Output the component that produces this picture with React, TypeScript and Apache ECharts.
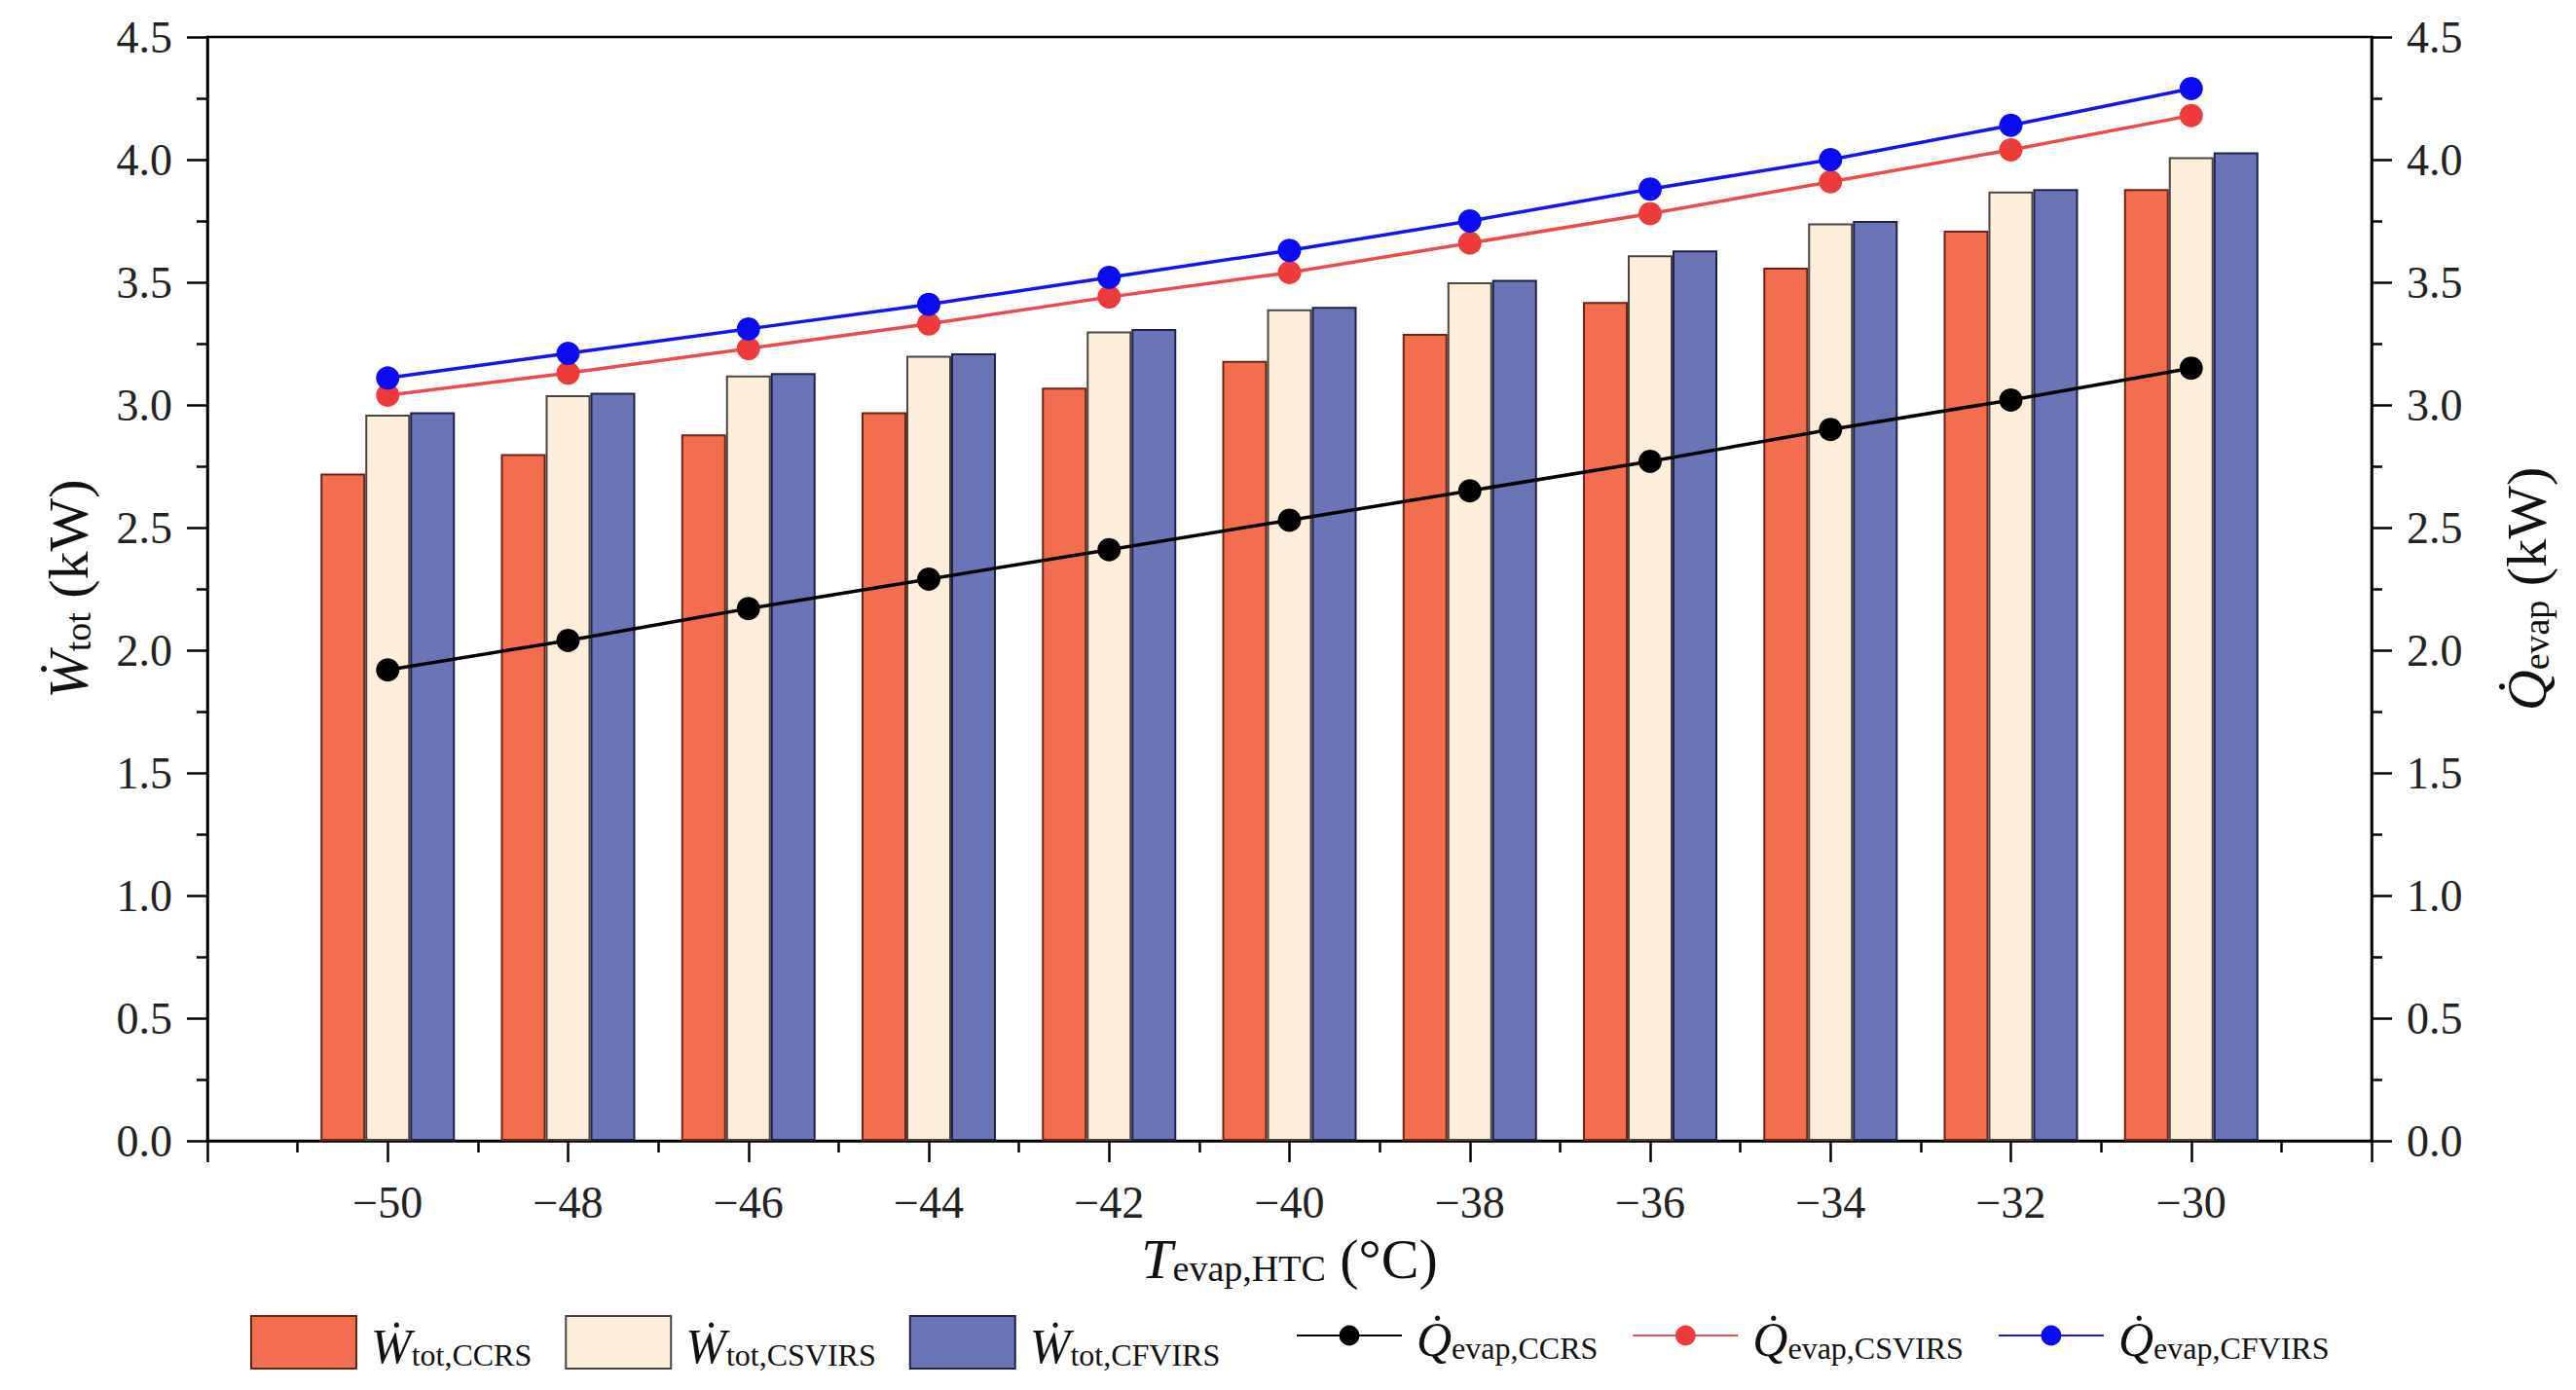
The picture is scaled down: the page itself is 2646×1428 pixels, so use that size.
import React, { useEffect, useRef } from "react";
import * as echarts from "echarts";

const temps = [-50, -48, -46, -44, -42, -40, -38, -36, -34, -32, -30];
const wCCRS = [2.72, 2.80, 2.88, 2.97, 3.07, 3.18, 3.29, 3.42, 3.56, 3.71, 3.88];
const wCSVIRS = [2.96, 3.04, 3.12, 3.20, 3.30, 3.39, 3.50, 3.61, 3.74, 3.87, 4.01];
const wCFVIRS = [2.97, 3.05, 3.13, 3.21, 3.31, 3.40, 3.51, 3.63, 3.75, 3.88, 4.03];
const qCCRS = [1.92, 2.04, 2.17, 2.29, 2.41, 2.53, 2.65, 2.77, 2.90, 3.02, 3.15];
const qCSVIRS = [3.04, 3.13, 3.23, 3.33, 3.44, 3.54, 3.66, 3.78, 3.91, 4.04, 4.18];
const qCFVIRS = [3.11, 3.21, 3.31, 3.41, 3.52, 3.63, 3.75, 3.88, 4.00, 4.14, 4.29];

const barNames = ["W_CCRS", "W_CSVIRS", "W_CFVIRS"];
const lineNames = ["Q_CCRS", "Q_CSVIRS", "Q_CFVIRS"];
const legendLabels: Record<string, string> = {
  W_CCRS: "{w|W\u0307}{s|tot,CCRS}",
  W_CSVIRS: "{w|W\u0307}{s|tot,CSVIRS}",
  W_CFVIRS: "{w|W\u0307}{s|tot,CFVIRS}",
  Q_CCRS: "{w|Q\u0307}{s|evap,CCRS}",
  Q_CSVIRS: "{w|Q\u0307}{s|evap,CSVIRS}",
  Q_CFVIRS: "{w|Q\u0307}{s|evap,CFVIRS}",
};

const FONT = "'Liberation Serif', 'Times New Roman', serif";
const AX = "#000";

const pairs = (vals: number[]) => temps.map((t, i) => [t, vals[i]]);

const nameRich = {
  i: { fontFamily: FONT, fontSize: 58, fontStyle: "italic", color: "#111", lineHeight: 66, verticalAlign: "bottom" },
  s: { fontFamily: FONT, fontSize: 38, color: "#111", lineHeight: 30, verticalAlign: "bottom" },
  n: { fontFamily: FONT, fontSize: 58, color: "#111", lineHeight: 66, verticalAlign: "bottom" },
};

const legendRich = {
  w: { fontFamily: FONT, fontSize: 50, fontStyle: "italic", color: "#111", lineHeight: 58, verticalAlign: "bottom", padding: [0, 0, 0, 10] },
  s: { fontFamily: FONT, fontSize: 32, color: "#111", lineHeight: 26, verticalAlign: "bottom" },
};

export default function App() {
  const ref = useRef<HTMLDivElement>(null);
  useEffect(() => {
    if (!ref.current) return;
    const chart = echarts.init(ref.current, undefined, { renderer: "svg" });
    const yAxisCommon = {
      type: "value",
      min: 0,
      max: 4.5,
      interval: 0.5,
      nameLocation: "middle",
      nameRotate: 90,
      axisLine: { show: true, lineStyle: { color: AX, width: 2.5 } },
      axisTick: { show: true, length: 21, lineStyle: { color: AX, width: 2.5 } },
      minorTick: { show: true, splitNumber: 2, length: 11, lineStyle: { color: AX, width: 2.5 } },
      splitLine: { show: false },
      axisLabel: {
        fontFamily: FONT,
        fontSize: 46,
        color: "#222",
        margin: 36,
        formatter: (v: number) => v.toFixed(1),
      },
    };
    const option = {
      animation: false,
      backgroundColor: "#fff",
      grid: {
        left: 213,
        right: 210,
        top: 38,
        bottom: 256,
        show: true,
        borderColor: AX,
        borderWidth: 2.5,
        containLabel: false,
      },
      legend: [
        {
          data: barNames,
          left: 252,
          top: 1346,
          itemWidth: 108,
          itemHeight: 54,
          itemGap: 34,
          icon: "rect",
          formatter: (n: string) => legendLabels[n],
          textStyle: { fontFamily: FONT, rich: legendRich },
        },
        {
          data: lineNames,
          left: 1326,
          top: 1346,
          itemWidth: 108,
          itemHeight: 26,
          itemGap: 35,
          formatter: (n: string) => legendLabels[n],
          textStyle: { fontFamily: FONT, rich: legendRich },
        },
      ],
      xAxis: {
        type: "value",
        min: -52,
        max: -28,
        interval: 2,
        name: "{i|T}{s|evap,HTC}{n| (°C)}",
        nameLocation: "middle",
        nameGap: 84,
        nameTextStyle: { fontFamily: FONT, rich: nameRich },
        axisLine: { show: true, onZero: false, lineStyle: { color: AX, width: 2.5 } },
        axisTick: { show: true, length: 22, lineStyle: { color: AX, width: 2.5 } },
        minorTick: { show: true, splitNumber: 2, length: 12, lineStyle: { color: AX, width: 2.5 } },
        splitLine: { show: false },
        axisLabel: {
          fontFamily: FONT,
          fontSize: 46,
          color: "#222",
          margin: 40,
          formatter: (v: number) =>
            v === -52 || v === -28 ? "" : v < 0 ? "\u2212" + Math.abs(v) : String(v),
        },
      },
      yAxis: [
        {
          ...yAxisCommon,
          position: "left",
          name: "{i|W\u0307}{s|tot}{n| (kW)}",
          nameGap: 114,
          nameTextStyle: { fontFamily: FONT, rich: nameRich },
        },
        {
          ...yAxisCommon,
          position: "right",
          name: "{i|Q\u0307}{s|evap}{n| (kW)}",
          nameGap: 122,
          nameTextStyle: { fontFamily: FONT, rich: nameRich },
        },
      ],
      series: [
        {
          name: "W_CCRS",
          type: "bar",
          data: pairs(wCCRS),
          barWidth: 46,
          barGap: "0%",
          itemStyle: { color: "#F26E4E", borderColor: "#6B2416", borderWidth: 2 },
        },
        {
          name: "W_CSVIRS",
          type: "bar",
          data: pairs(wCSVIRS),
          barWidth: 46,
          barGap: "0%",
          itemStyle: { color: "#FDEEDC", borderColor: "#4A4440", borderWidth: 2 },
        },
        {
          name: "W_CFVIRS",
          type: "bar",
          data: pairs(wCFVIRS),
          barWidth: 46,
          barGap: "0%",
          itemStyle: { color: "#6B74B6", borderColor: "#1E2248", borderWidth: 2 },
        },
        {
          name: "Q_CCRS",
          type: "line",
          yAxisIndex: 1,
          data: pairs(qCCRS),
          symbol: "circle",
          symbolSize: 24,
          z: 4,
          lineStyle: { color: "#000", width: 3.5 },
          itemStyle: { color: "#000" },
        },
        {
          name: "Q_CSVIRS",
          type: "line",
          yAxisIndex: 1,
          data: pairs(qCSVIRS),
          symbol: "circle",
          symbolSize: 24,
          z: 4,
          lineStyle: { color: "#EF4A4A", width: 3.5 },
          itemStyle: { color: "#EE3A3A" },
        },
        {
          name: "Q_CFVIRS",
          type: "line",
          yAxisIndex: 1,
          data: pairs(qCFVIRS),
          symbol: "circle",
          symbolSize: 24,
          z: 5,
          lineStyle: { color: "#1414F0", width: 3.5 },
          itemStyle: { color: "#0A0AF5" },
        },
      ],
    };
    chart.setOption(option as any);
    return () => chart.dispose();
  }, []);
  return (
    <div
      ref={ref}
      style={{ position: "fixed", left: 0, top: 0, width: 2646, height: 1428, background: "#fff" }}
    />
  );
}
